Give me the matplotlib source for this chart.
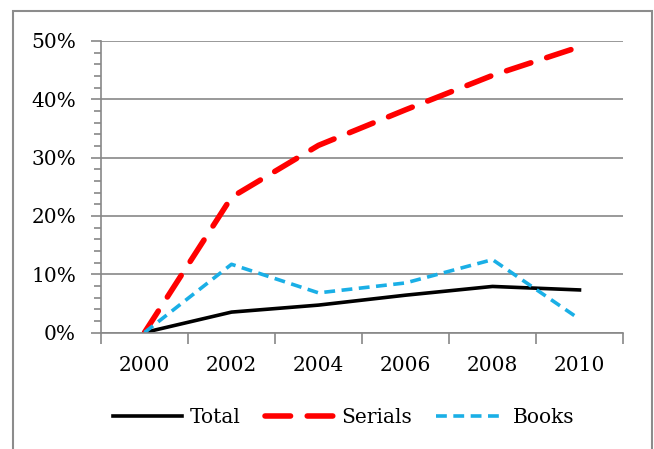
import matplotlib.pyplot as plt
from matplotlib.patches import Rectangle
from matplotlib.ticker import FuncFormatter, MultipleLocator

years = ['2000', '2002', '2004', '2006', '2008', '2010']
total = [0.0, 3.5, 4.7, 6.4, 7.9, 7.3]
serials = [0.0, 23.2, 32.1, 38.2, 44.1, 49.0]
books = [0.0, 11.7, 6.8, 8.5, 12.5, 2.3]

plt.rcParams['font.family'] = ['DejaVu Serif']

fig = plt.figure(figsize=(6.54, 4.49), dpi=100)
ax = fig.add_axes([101 / 654, 1 - 332.5 / 449, 522 / 654, 291.5 / 449])

# outer chart frame
fig.patches.append(Rectangle((13 / 654, -0.1), 639 / 654, 1.1 - 11 / 449,
                             transform=fig.transFigure, fill=False,
                             edgecolor='#8c8c8c', linewidth=1.5))

x = range(len(years))
ax.plot(x, total, color='black', linewidth=2.6, label='Total')
ax.plot(x, serials, color='#ff0000', linewidth=4, dashes=(4.6, 3),
        dash_capstyle='round', label='Serials')
ax.plot(x, books, color='#1aafe6', linewidth=2.6, dashes=(3, 1.8),
        label='Books')

ax.set_xlim(-0.5, len(years) - 0.5)
ax.set_ylim(0, 50)
ax.yaxis.set_major_locator(MultipleLocator(10))
ax.yaxis.set_minor_locator(MultipleLocator(2))
ax.yaxis.set_major_formatter(FuncFormatter(lambda v, p: '%d%%' % v))
ax.grid(axis='y', color='#878787', linewidth=1.2)
ax.set_axisbelow(True)

# category ticks sit between the labels
ax.set_xticks([i - 0.5 for i in range(len(years) + 1)])
ax.set_xticklabels([])
ax.set_xticks(list(x), minor=True)
ax.set_xticklabels(years, minor=True)
ax.tick_params(axis='x', which='minor', length=0, labelsize=14.5, pad=17)
ax.tick_params(axis='x', which='major', length=8, width=1.2, color='#878787')
ax.tick_params(axis='y', which='major', length=7, width=1.2, color='#878787',
               labelsize=14.5, pad=11)
ax.tick_params(axis='y', which='minor', length=5, width=1.2, color='#878787')

for side in ['top', 'right']:
    ax.spines[side].set_visible(False)
for side in ['left', 'bottom']:
    ax.spines[side].set_color('#878787')
    ax.spines[side].set_linewidth(1.2)

ax.legend(loc='center', bbox_to_anchor=(0.465, -0.293), ncol=3,
          frameon=False, fontsize=14.5, handlelength=3.4, columnspacing=1.2,
          handletextpad=0.4)

fig.savefig('out.png', dpi=100)
